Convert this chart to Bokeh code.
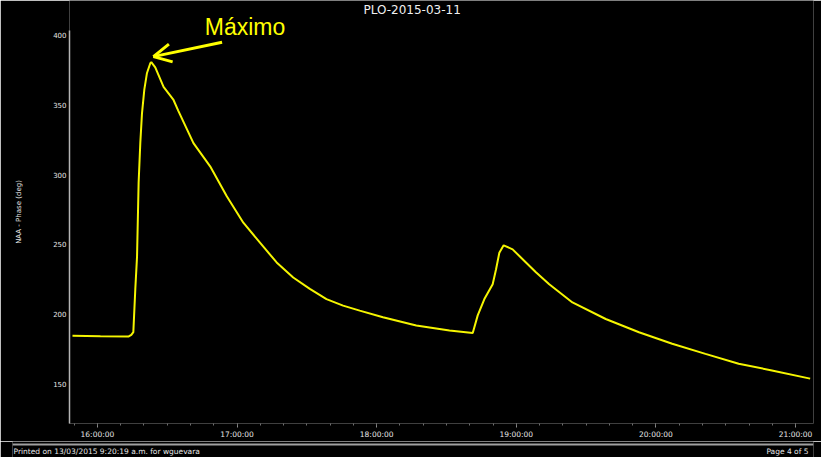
import math
import numpy as np
from bokeh.plotting import figure
from bokeh.models import Range1d, FixedTicker, Span
from bokeh.core.properties import value
from bokeh.layouts import column
from bokeh.embed import file_html
from bokeh.resources import INLINE

# ---- data ----
times = ["15:49:17", "16:01:17", "16:13:17", "16:14:34", "16:15:26", "16:16:17",
         "16:17:01", "16:17:42", "16:18:26", "16:19:09", "16:20:09", "16:21:18",
         "16:22:43", "16:23:09", "16:24:51", "16:28:25", "16:32:42", "16:34:43",
         "16:41:16", "16:48:26", "16:55:35", "17:02:42", "17:09:51", "17:17:01",
         "17:24:08", "17:31:17", "17:38:26", "17:45:34", "17:52:43", "18:02:42",
         "18:17:01", "18:31:17", "18:41:17", "18:43:25", "18:46:17", "18:49:51",
         "18:51:18", "18:52:43", "18:54:34", "18:58:25", "19:04:09", "19:08:26",
         "19:14:09", "19:24:08", "19:38:26", "19:52:43", "20:07:00", "20:21:17",
         "20:35:34", "20:49:51", "21:06:17"]
phase = [184.3, 184.0, 183.8, 185.0, 187.0, 218.0,
         241.0, 294.0, 323.0, 344.0, 361.0, 373.0,
         380.0, 380.7, 377.0, 363.0, 353.6, 346.0,
         322.6, 306.0, 284.5, 265.5, 251.2, 237.0,
         226.2, 218.0, 210.7, 206.0, 202.4, 197.6,
         191.7, 188.1, 186.4, 199.0, 210.7, 221.4,
         232.1, 244.0, 249.3, 246.4, 237.0, 230.0,
         221.4, 208.3, 196.4, 186.9, 178.6, 171.4,
         164.3, 159.5, 153.6]
x_tick_hours = [16, 17, 18, 19, 20, 21]
x_tick_labels = ["16:00:00", "17:00:00", "18:00:00", "19:00:00", "20:00:00", "21:00:00"]
y_ticks = [150, 200, 250, 300, 350, 400]
title_text = "PLO-2015-03-11"
y_label = "NAA - Phase (deg)"
annot_text = "Máximo"
footer_left = "Printed on 13/03/2015 9:20:19 a.m. for wguevara"
footer_right = "Page 4 of 5"

def to_hours(t):
    h, m, s = (int(v) for v in t.split(":"))
    return h + m / 60 + s / 3600

hours = [to_hours(t) for t in times]

YEL = "#f5f500"
W, H = 821, 441
BL, BR, BT, BB = 69, 6, 0, 16
X0, X1 = 15.8, 21.1286
Y0, Y1 = 121.4, 425.0
AXIS_TOP = 403.6
SX = (W - BL - BR) / (X1 - X0)      # px per hour
SY = (H - BT - BB) / (Y1 - Y0)      # px per degree

p = figure(width=W, height=H, output_backend="svg", toolbar_location=None, tools="",
           x_range=Range1d(X0, X1), y_range=Range1d(Y0, Y1),
           min_border_left=BL, min_border_right=BR, min_border_top=BT, min_border_bottom=BB,
           background_fill_color="black", border_fill_color="black",
           outline_line_color=None)
p.title.visible = False
p.xgrid.visible = False
p.ygrid.visible = False

# x axis
minor = [h + k / 6 for h in range(15, 22) for k in range(6)]
p.xaxis.ticker = FixedTicker(ticks=x_tick_hours, minor_ticks=minor)
p.xaxis.major_label_overrides = {h: lab for h, lab in zip(x_tick_hours, x_tick_labels)}
p.xaxis.axis_line_color = None
p.xaxis.major_tick_out = 4
p.xaxis.major_tick_in = 0
p.xaxis.minor_tick_out = 2
p.xaxis.minor_tick_in = 0
p.xaxis.major_tick_line_color = "#8c8c8c"
p.xaxis.minor_tick_line_color = "#6e6e6e"
p.xaxis.major_label_standoff = 2
p.xaxis.major_label_text_font = "DejaVu Sans"
p.xaxis.major_label_text_font_size = "7.5px"
p.xaxis.major_label_text_color = "#e6e6e6"

# y axis
p.yaxis.ticker = FixedTicker(ticks=y_ticks, minor_ticks=[])
p.yaxis.bounds = (Y0, AXIS_TOP)
p.yaxis.axis_line_color = "#b4b4b4"
p.yaxis.axis_line_width = 1.5
p.yaxis.major_tick_out = 0
p.yaxis.major_tick_in = 0
p.yaxis.minor_tick_line_color = None
p.yaxis.major_label_standoff = 3
p.yaxis.major_label_text_font = "DejaVu Sans"
p.yaxis.major_label_text_font_size = "7px"
p.yaxis.major_label_text_color = "#e6e6e6"
p.yaxis.axis_label = y_label
p.yaxis.axis_label_text_font = "DejaVu Sans"
p.yaxis.axis_label_text_font_size = "7px"
p.yaxis.axis_label_text_font_style = "normal"
p.yaxis.axis_label_text_color = "#e6e6e6"
p.yaxis.axis_label_standoff = 27

p.line(hours, phase, line_color=YEL, line_width=2)

# title (text glyph inside the tall frame)
p.text(x=[18.254], y=[Y1 - 10 / SY], text=[title_text], text_align="center",
       text_baseline="middle", text_font=value("DejaVu Sans"),
       text_font_size="12px", text_color="#f0f0f0")

# annotation at the maximum: arrow drawn as lines (shaft + open head)
i = int(np.argmax(phase))
pk_h, pk_v = hours[i], phase[i]
tip_h, tip_v = pk_h + 0.015, pk_v + 4.0
tail_h, tail_v = pk_h + 0.507, pk_v + 14.3
dx = (tail_h - tip_h) * SX
dy = (tail_v - tip_v) * SY
ang = math.atan2(dy, dx)
arm = 20.0
half = math.radians(27)
arms_x, arms_y = [], []
for s in (1, -1):
    a = ang + s * half
    arms_x.append([tip_h + arm * math.cos(a) / SX, tip_h])
    arms_y.append([tip_v + arm * math.sin(a) / SY, tip_v])
p.multi_line(xs=[[tail_h, tip_h]] + arms_x, ys=[[tail_v, tip_v]] + arms_y,
             line_color="#ffff00", line_width=3, line_join="miter", line_cap="butt")
p.text(x=[pk_h + 0.383], y=[pk_v + 25.6], text=[annot_text],
       text_font=value("Liberation Sans"), text_font_size="23px",
       text_color="#ffff00", text_baseline="alphabetic")

# footer
f = figure(width=W, height=16, output_backend="svg", toolbar_location=None, tools="",
           x_range=Range1d(0, 1), y_range=Range1d(16, 0),
           x_axis_location=None, y_axis_location=None,
           min_border_left=12, min_border_right=8, min_border_top=0, min_border_bottom=0,
           background_fill_color="black", border_fill_color="black",
           outline_line_color=None)
f.frame_align = False
f.title.visible = False
f.xgrid.visible = False
f.ygrid.visible = False
f.add_layout(Span(location=3, dimension="width", line_color="#a0a0a0", line_width=2))
f.text(x=[0], y=[10], text=[footer_left], x_offset=1, text_baseline="middle",
       text_font=value("DejaVu Sans"), text_font_size="7.5px", text_color="#e6e6e6")
f.text(x=[1], y=[10], text=[footer_right], x_offset=-5, text_baseline="middle",
       text_align="right",
       text_font=value("DejaVu Sans"), text_font_size="7.5px", text_color="#e6e6e6")

layout = column(p, f, spacing=0)
html = file_html(layout, INLINE)
html = html.replace("<body>", '<body style="margin:0;background-color:#000;overflow:hidden;">', 1)
open("out.html", "w").write(html)
